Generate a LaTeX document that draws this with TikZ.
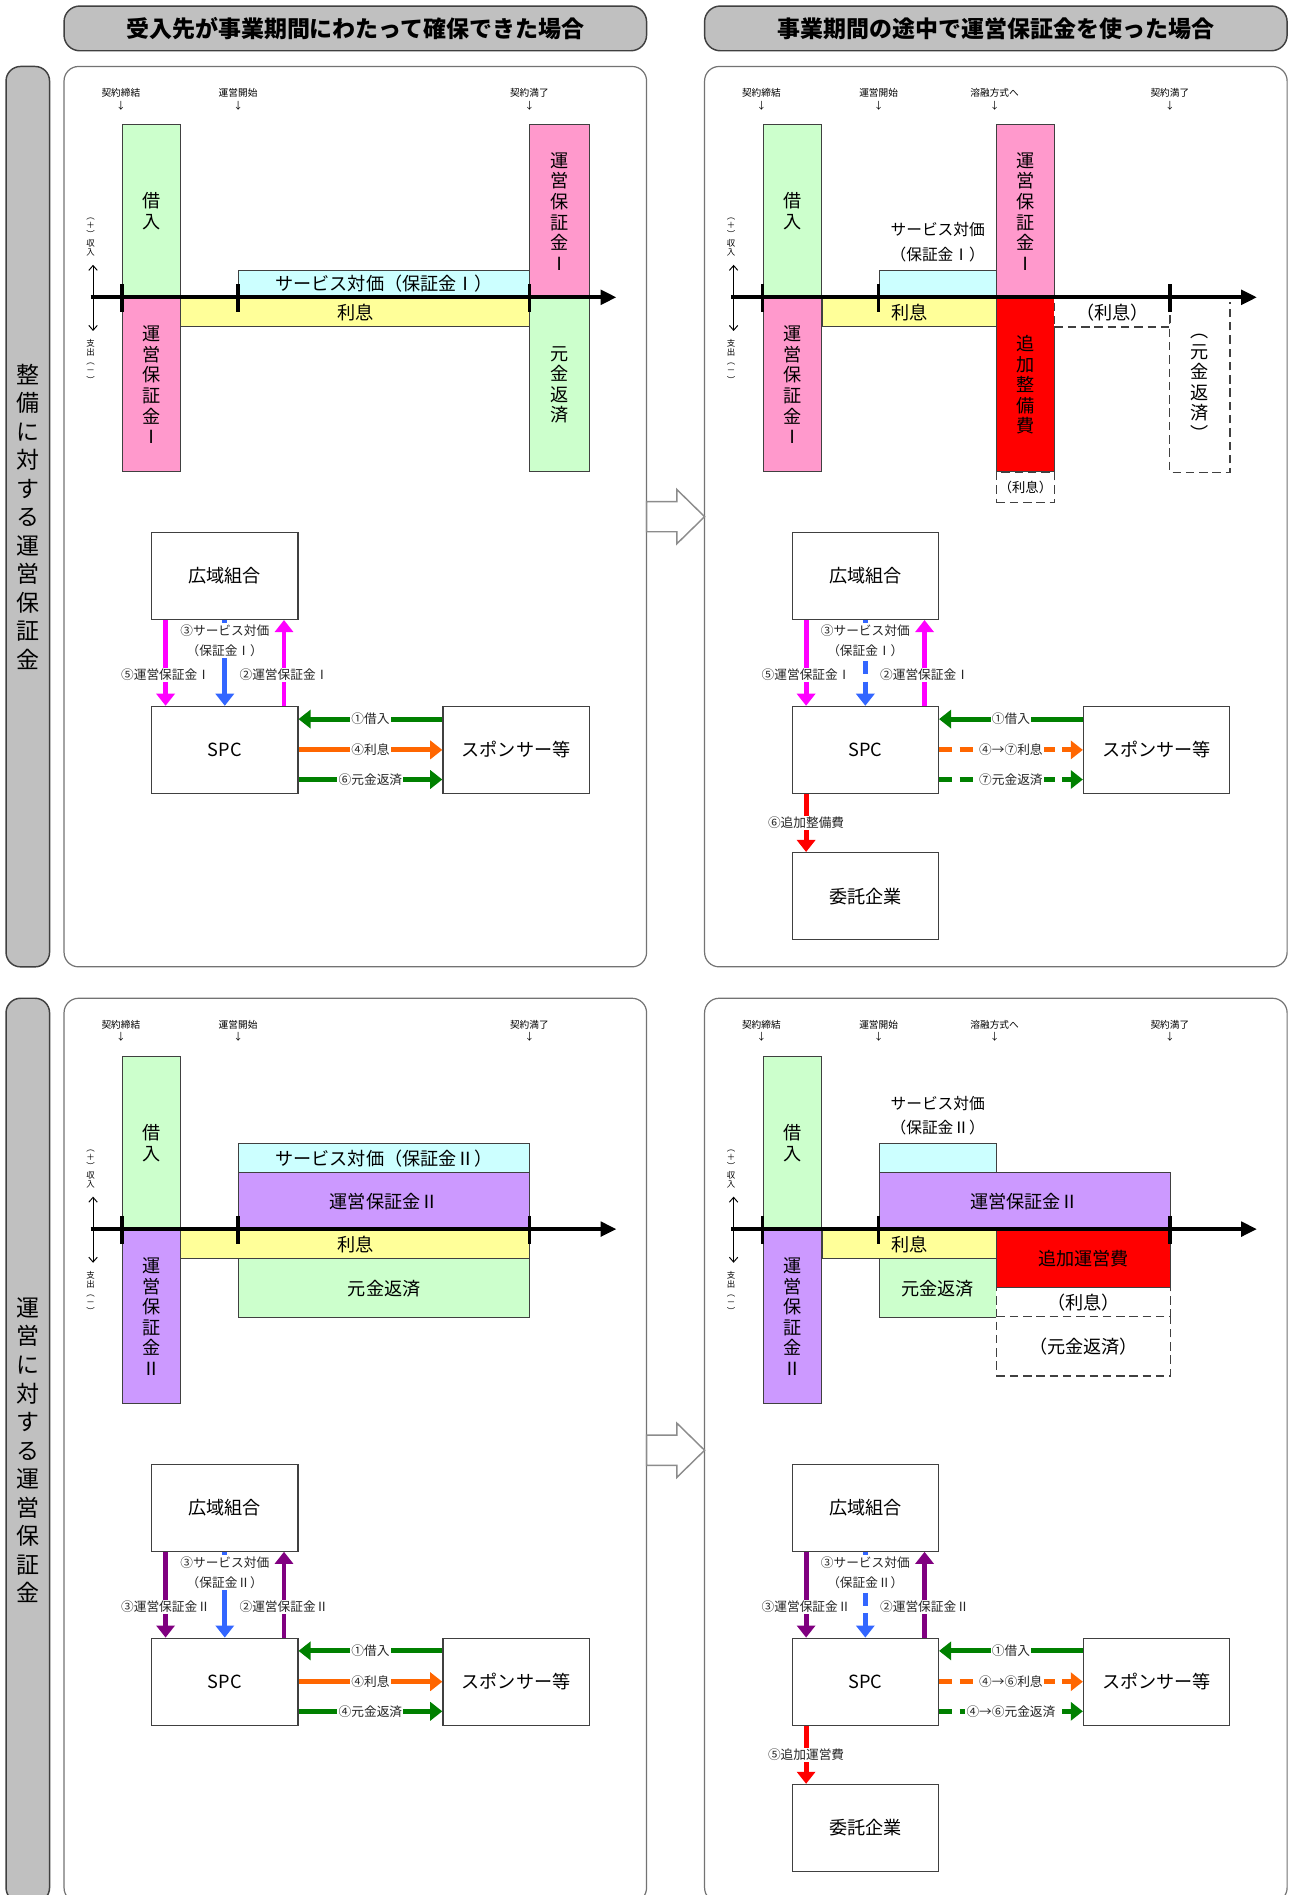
\documentclass[tikz,border=0pt]{standalone}
\usepackage{fontspec}
\setmainfont{Noto Sans CJK JP}
\usepackage{xcolor}
\usetikzlibrary{arrows.meta,calc,positioning}
\definecolor{Loan}{HTML}{CCFFCC}
\definecolor{Bond}{HTML}{FF99CC}
\definecolor{Fee}{HTML}{CCFFFF}
\definecolor{Rate}{HTML}{FFFF99}
\definecolor{Lilac}{HTML}{CC99FF}
\definecolor{Alarm}{HTML}{FF0000}
\definecolor{Frame}{HTML}{C0C0C0}
\definecolor{Edge}{HTML}{404040}
\definecolor{Fuchsia}{HTML}{FF00FF}
\definecolor{Azure}{HTML}{3366FF}
\definecolor{Leaf}{HTML}{008000}
\definecolor{Amber}{HTML}{FF6600}
\definecolor{Plum}{HTML}{800080}
\tikzset{
  segbox/.style={draw=Edge,line width=0.8pt,anchor=north west,inner sep=0pt,align=center,
    font=\fontsize{15}{17}\selectfont},
  gapbox/.style={segbox,line width=1pt,dash pattern=on 7pt off 4pt,fill=white},
  flowbox/.style={draw=Edge,line width=1pt,fill=white,anchor=north west,minimum width=121pt,
    minimum height=72pt,font=\fontsize{15}{17}\selectfont},
  money/.style={line width=4pt,-{Triangle[length=10pt,width=15pt]}},
  dashmoney/.style={money,dash pattern=on 11pt off 6pt},
  tag/.style={fill=white,text=black!85,inner sep=1pt,align=center,font=\fontsize{10.5}{16.5}\selectfont},
  stamp/.style={inner sep=0pt,align=center,font=\fontsize{8}{10.5}\selectfont},
  sidenote/.style={inner sep=0pt,align=center,font=\fontsize{7}{7.5}\selectfont},
  feenote/.style={align=center,font=\fontsize{13}{20}\selectfont},
  axisline/.style={line width=3pt,-{Triangle[length=13pt,width=12pt]}},
  tickline/.style={line width=3pt},
  updown/.style={line width=0.8pt,{Straight Barb[length=4pt,width=7pt]}-{Straight Barb[length=4pt,width=7pt]}},
  panel/.style={draw=black!55,line width=1pt,fill=white,rounded corners=12pt,minimum width=482pt},
  header/.style={draw=black!75,line width=1.2pt,fill=Frame,rounded corners=13pt,minimum width=482pt,
    minimum height=37pt,font=\fontsize{19}{21}\bfseries\selectfont},
  sideband/.style={draw=black!75,line width=1.2pt,fill=Frame,rounded corners=12pt,minimum width=36pt,
    align=center,font=\fontsize{19}{23.6}\selectfont},
  hollow/.style={draw=black!45,line width=1.2pt,fill=white}
}
\newcommand{\segbar}[7]{%
  \node[segbox,fill=#2,minimum width=#5pt,minimum height=#6pt] (#1) at (#3,#4) {#7};}
\newcommand{\gapbar}[6]{%
  \node[gapbox,minimum width=#4pt,minimum height=#5pt] (#1) at (#2,#3) {#6};}
\newcommand{\chartbase}[3]{%
  \segbar{#1Loan}{Loan}{101}{103}{48}{143}{借\\入}
  \segbar{#1Own}{#2}{101}{246}{48}{144}{運\\営\\保\\証\\金\\#3}
  \node[stamp] (#1Sign) at (100,82) {契約締結\\↓};
  \node[stamp] (#1Open) at (197,82) {運営開始\\↓};
  \node[stamp] (#1End) at (438,82) {契約満了\\↓};
  \node[sidenote] (#1In) at (75,196) {︵\\＋\\︶\\収\\入};
  \node[sidenote] (#1Out) at (75,299) {支\\出\\︵\\－\\︶};
  \draw[updown] ([xshift=2pt,yshift=-7pt]#1In.south) -- ([xshift=2pt,yshift=7pt]#1Out.north);
  \draw[axisline] (75,246) -- (510,246);
  \foreach \tx in {101,197,438}
    \draw[tickline] (\tx,235) -- (\tx,258);}
\newcommand{\flowbase}[5]{%
  \node[flowbox] (#1Union) at (125,440) {広域組合};
  \node[flowbox] (#1Spc) at (125,584) {SPC};
  \node[flowbox] (#1Sponsor) at (366,584) {スポンサー等};
  \draw[money,#2] ([xshift=12pt]#1Union.south west) -- node[tag,pos=0.64] {#5運営保証金#4} ([xshift=12pt]#1Spc.north west);
  \draw[money,#2] ([xshift=-12pt]#1Spc.north east) -- node[tag,pos=0.36] {②運営保証金#4} ([xshift=-12pt]#1Union.south east);
  \draw[#3,Azure] (#1Union.south) -- node[tag,pos=0.24] {③サービス対価\\（保証金#4）} (#1Spc.north);
  \draw[money,Leaf] ([yshift=-11pt]#1Sponsor.north west) -- node[tag] {①借入} ([yshift=-11pt]#1Spc.north east);}

\begin{document}
\begin{tikzpicture}[x=1pt,y=-1pt]
  \useasboundingbox (0,0) rectangle (1067,1568);
  \node[header] (hA) at (294,23.5) {受入先が事業期間にわたって確保できた場合};
  \node[header] (hB) at (824,23.5) {事業期間の途中で運営保証金を使った場合};
  \node[sideband,minimum height=745pt] (sA) at (23,427.5) {整\\備\\に\\対\\す\\る\\運\\営\\保\\証\\金};
  \node[sideband,minimum height=748pt] (sB) at (23,1200) {運\\営\\に\\対\\す\\る\\運\\営\\保\\証\\金};
  \node[panel,minimum height=745pt] (pA) at (294,427.5) {};
  \node[panel,minimum height=745pt] (pB) at (824,427.5) {};
  \node[panel,minimum height=748pt] (pC) at (294,1200) {};
  \node[panel,minimum height=748pt] (pD) at (824,1200) {};
  \foreach \a/\b in {pA/pB,pC/pD}
    \draw[hollow,shift={($(\a.east)!0.5!(\b.west)$)}] (-24,-12.5) -- (1,-12.5) -- (1,-22.5) -- (24,0)
      -- (1,22.5) -- (1,12.5) -- (-24,12.5) -- cycle;

  \begin{scope}
    \segbar{aFee}{Fee}{197}{223}{241}{23}{サービス対価（保証金Ⅰ）}
    \segbar{aRate}{Rate}{149}{246}{289}{24}{利息}
    \segbar{aBond}{Bond}{438}{103}{49}{143}{運\\営\\保\\証\\金\\Ⅰ}
    \segbar{aRepay}{Loan}{438}{246}{49}{144}{元\\金\\返\\済}
    \chartbase{a}{Bond}{Ⅰ}
    \flowbase{a}{Fuchsia}{money}{Ⅰ}{⑤}
    \draw[money,Amber] (aSpc.east) -- node[tag] {④利息} (aSponsor.west);
    \draw[money,Leaf] ([yshift=12pt]aSpc.south east) -- node[tag] {⑥元金返済} ([yshift=12pt]aSponsor.south west);
  \end{scope}

  \begin{scope}[shift={(530,0)}]
    \segbar{bFee}{Fee}{197}{223}{97}{23}{}
    \node[feenote,above=3pt of bFee] (bFeeNote) {サービス対価\\（保証金Ⅰ）};
    \segbar{bRate}{Rate}{150}{246}{144}{24}{利息}
    \segbar{bBond}{Bond}{294}{103}{48}{143}{運\\営\\保\\証\\金\\Ⅰ}
    \segbar{bExtra}{Alarm}{294}{246}{48}{144}{追\\加\\整\\備\\費}
    \gapbar{bRateA}{294}{390}{48}{25}{\fontsize{11}{12}\selectfont（利息）}
    \gapbar{bRateB}{342}{246}{96}{24}{（利息）}
    \node[segbox,draw=none,minimum width=49pt,minimum height=140pt] (bRepay) at (438,250) {︵\\元\\金\\返\\済\\︶};
    \draw[Edge,line width=1pt,dash pattern=on 7pt off 4pt] (bRepay.north west) -- (bRepay.south west) -- (bRepay.south east) -- (bRepay.north east);
    \chartbase{b}{Bond}{Ⅰ}
    \node[stamp] (bMelt) at (293,82) {溶融方式へ\\↓};
    \flowbase{b}{Fuchsia}{dashmoney}{Ⅰ}{⑤}
    \node[flowbox] (bTrust) at (125,705) {委託企業};
    \draw[dashmoney,Amber] (bSpc.east) -- node[tag] {④→⑦利息} (bSponsor.west);
    \draw[dashmoney,Leaf] ([yshift=12pt]bSpc.south east) -- node[tag] {⑦元金返済} ([yshift=12pt]bSponsor.south west);
    \draw[money,Alarm] ([xshift=12pt]bSpc.south west) -- node[tag] {⑥追加整備費} ([xshift=12pt]bTrust.north west);
  \end{scope}

  \begin{scope}[shift={(0,771)}]
    \segbar{cFee}{Fee}{197}{175}{241}{24}{サービス対価（保証金Ⅱ）}
    \segbar{cGuard}{Lilac}{197}{199}{241}{47}{運営保証金Ⅱ}
    \segbar{cRate}{Rate}{149}{246}{289}{24}{利息}
    \segbar{cRepay}{Loan}{197}{270}{241}{49}{元金返済}
    \chartbase{c}{Lilac}{Ⅱ}
    \flowbase{c}{Plum}{money}{Ⅱ}{③}
    \draw[money,Amber] (cSpc.east) -- node[tag] {④利息} (cSponsor.west);
    \draw[money,Leaf] ([yshift=12pt]cSpc.south east) -- node[tag] {④元金返済} ([yshift=12pt]cSponsor.south west);
  \end{scope}

  \begin{scope}[shift={(530,771)}]
    \segbar{dFee}{Fee}{197}{175}{97}{24}{}
    \node[feenote,above=3pt of dFee] (dFeeNote) {サービス対価\\（保証金Ⅱ）};
    \segbar{dGuard}{Lilac}{197}{199}{241}{47}{運営保証金Ⅱ}
    \segbar{dRate}{Rate}{150}{246}{144}{24}{利息}
    \segbar{dRepay}{Loan}{197}{270}{97}{49}{元金返済}
    \segbar{dExtra}{Alarm}{294}{246}{144}{48}{追加運営費}
    \gapbar{dRateB}{294}{294}{144}{24}{（利息）}
    \gapbar{dRepayB}{294}{318}{144}{49}{（元金返済）}
    \chartbase{d}{Lilac}{Ⅱ}
    \node[stamp] (dMelt) at (293,82) {溶融方式へ\\↓};
    \flowbase{d}{Plum}{dashmoney}{Ⅱ}{③}
    \node[flowbox] (dTrust) at (125,705) {委託企業};
    \draw[dashmoney,Amber] (dSpc.east) -- node[tag] {④→⑥利息} (dSponsor.west);
    \draw[dashmoney,Leaf] ([yshift=12pt]dSpc.south east) -- node[tag] {④→⑥元金返済} ([yshift=12pt]dSponsor.south west);
    \draw[money,Alarm] ([xshift=12pt]dSpc.south west) -- node[tag] {⑤追加運営費} ([xshift=12pt]dTrust.north west);
  \end{scope}
\end{tikzpicture}
\end{document}
